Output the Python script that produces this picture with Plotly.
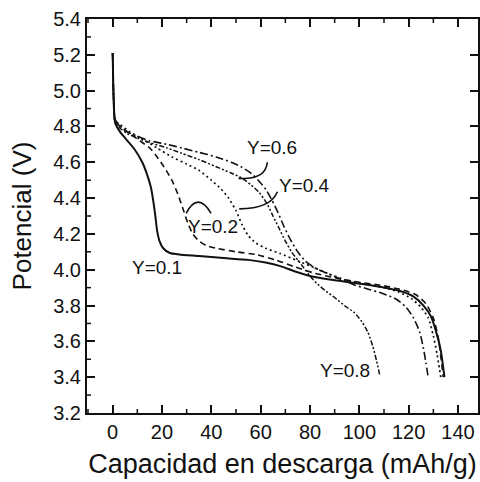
import plotly.graph_objects as go

# Discharge curves: capacity (mAh/g) vs potential (V) for each composition Y
cap_y01 = [0, 0.3, 0.6, 1, 3, 6, 9, 12, 14, 15.5, 16.5, 17.3, 18, 19, 20.5, 23, 27, 35, 45, 55, 62, 68, 74, 80, 88, 96, 104, 112, 118, 122, 126, 129, 131, 133, 134.5]
pot_y01 = [5.21, 5.0, 4.88, 4.82, 4.77, 4.72, 4.67, 4.60, 4.53, 4.46, 4.38, 4.30, 4.22, 4.16, 4.12, 4.095, 4.085, 4.077, 4.065, 4.055, 4.04, 4.02, 3.99, 3.965, 3.945, 3.93, 3.915, 3.895, 3.875, 3.85, 3.80, 3.74, 3.66, 3.55, 3.40]

cap_y02 = [0, 0.3, 0.6, 1, 3, 7, 11, 15, 18, 21, 24, 26.5, 28.5, 30.5, 32.5, 35, 38, 42, 50, 58, 66, 74, 82, 90, 100, 110, 118, 123, 127, 130, 132, 134]
pot_y02 = [5.21, 5.0, 4.88, 4.83, 4.80, 4.76, 4.72, 4.68, 4.63, 4.57, 4.50, 4.42, 4.34, 4.26, 4.20, 4.16, 4.135, 4.12, 4.10, 4.085, 4.055, 4.015, 3.98, 3.955, 3.93, 3.91, 3.885, 3.86, 3.81, 3.73, 3.62, 3.40]

cap_y04 = [0, 0.3, 0.6, 1, 3, 7, 12, 18, 24, 30, 35, 40, 44, 47, 50, 52.5, 55, 58, 62, 68, 75, 82, 88, 94, 102, 110, 116, 121, 125, 128, 130, 131.5, 133]
pot_y04 = [5.21, 5.0, 4.88, 4.83, 4.81, 4.77, 4.73, 4.68, 4.63, 4.59, 4.555, 4.50, 4.45, 4.40, 4.33, 4.25, 4.19, 4.15, 4.12, 4.09, 4.05, 4.01, 3.975, 3.945, 3.92, 3.90, 3.875, 3.84, 3.79, 3.73, 3.63, 3.53, 3.40]

cap_y06 = [0, 0.3, 0.6, 1, 3, 6, 10, 15, 22, 28, 35, 42, 48, 52, 56, 59, 62, 64.5, 67, 69.5, 72, 75, 78, 82, 86, 92, 98, 104, 110, 115, 119, 122, 124.5, 126, 127, 127.8]
pot_y06 = [5.21, 5.0, 4.88, 4.84, 4.80, 4.77, 4.745, 4.72, 4.70, 4.68, 4.655, 4.63, 4.60, 4.575, 4.54, 4.50, 4.45, 4.39, 4.32, 4.24, 4.17, 4.10, 4.05, 4.01, 3.985, 3.95, 3.915, 3.89, 3.865, 3.835, 3.79, 3.73, 3.65, 3.56, 3.48, 3.41]

cap_y08 = [0, 0.3, 0.6, 1, 3, 6, 10, 15, 22, 28, 35, 42, 48, 52, 56, 59.5, 62.5, 65, 67.5, 70, 72.5, 75, 77.5, 80, 83, 86.5, 90, 94, 98, 101, 103.5, 105.5, 107, 108.3]
pot_y08 = [5.21, 5.0, 4.88, 4.83, 4.79, 4.76, 4.735, 4.71, 4.68, 4.65, 4.615, 4.575, 4.54, 4.515, 4.475, 4.43, 4.37, 4.30, 4.23, 4.16, 4.10, 4.055, 4.01, 3.965, 3.92, 3.88, 3.845, 3.80, 3.76, 3.71, 3.65, 3.57, 3.49, 3.41]

# Curve labels and their positions
labels = ["Y=0.1", "Y=0.2", "Y=0.4", "Y=0.6", "Y=0.8"]
label_x = [18.1, 40.8, 77.9, 64.4, 94.0]
label_y = [4.01, 4.24, 4.47, 4.68, 3.44]

# Leader arcs from labels to curves: (start, control, end)
leader_y02 = [(29.8, 4.315), (34.5, 4.44), (39.9, 4.315)]
leader_y04 = [(66.8, 4.435), (64.0, 4.34), (51.3, 4.34)]
leader_y06 = [(62.7, 4.60), (62.0, 4.50), (51.0, 4.51)]

# Tick values (major and minor)
x_major = [0, 20, 40, 60, 80, 100, 120, 140]
x_minor = [-10, 10, 30, 50, 70, 90, 110, 130]
y_major = [3.2, 3.4, 3.6, 3.8, 4.0, 4.2, 4.4, 4.6, 4.8, 5.0, 5.2, 5.4]
y_minor = [3.3, 3.5, 3.7, 3.9, 4.1, 4.3, 4.5, 4.7, 4.9, 5.1, 5.3]

FONT = "Liberation Sans, Arial, Helvetica, sans-serif"
INK = "#111111"

series = [
    (cap_y01, pot_y01, "solid", 2.0),
    (cap_y02, pot_y02, "6px,4px", 1.6),
    (cap_y04, pot_y04, "2px,3px", 1.7),
    (cap_y06, pot_y06, "8px,3px,2px,3px", 1.6),
    (cap_y08, pot_y08, "5px,2px,2px,2px,2px,2px", 1.5),
]

fig = go.Figure()
for (xs, ys, dash, w), name in zip(series, labels):
    fig.add_trace(go.Scatter(x=xs, y=ys, mode="lines", name=name,
                             line=dict(color=INK, width=w, dash=dash, shape="spline", smoothing=0.6),
                             showlegend=False, hoverinfo="skip"))

for txt, lx, ly in zip(labels, label_x, label_y):
    fig.add_annotation(x=lx, y=ly, text=txt, showarrow=False,
                       font=dict(family=FONT, size=19, color=INK))

for (p0, c, p1) in [leader_y02, leader_y04, leader_y06]:
    fig.add_shape(type="path", xref="x", yref="y",
                  path=f"M {p0[0]},{p0[1]} Q {c[0]},{c[1]} {p1[0]},{p1[1]}",
                  line=dict(color=INK, width=1.6))


# Short minor tick marks along the inside of the frame, sized in pixels
def x_tick(v, length, width, edge):
    sign = 1 if edge == 0 else -1
    fig.add_shape(type="line", xref="x", yref="paper", ysizemode="pixel", yanchor=edge,
                  x0=v, x1=v, y0=0, y1=sign * length, line=dict(color=INK, width=width))


def y_tick(v, length, width, edge):
    sign = 1 if edge == 0 else -1
    fig.add_shape(type="line", xref="paper", yref="y", xsizemode="pixel", xanchor=edge,
                  y0=v, y1=v, x0=0, x1=sign * length, line=dict(color=INK, width=width))


for v in x_minor:
    x_tick(v, 4, 1.5, 0)
    x_tick(v, 4, 1.5, 1)
for v in y_minor:
    y_tick(v, 4, 1.5, 0)

fig.update_layout(
    width=480, height=482,
    margin=dict(l=87, r=0, t=19, b=69),
    paper_bgcolor="white", plot_bgcolor="white",
    xaxis=dict(range=[-10.4, 148.1], tickmode="array", tickvals=x_major,
               showline=True, linewidth=2, linecolor=INK, mirror="allticks",
               ticks="inside", ticklen=8, tickwidth=2, tickcolor=INK,
               showgrid=False, zeroline=False,
               tickfont=dict(family=FONT, size=20, color=INK),
               title=dict(text="Capacidad en descarga (mAh/g)", font=dict(family=FONT, size=27, color=INK),
                          standoff=12)),
    yaxis=dict(range=[3.2, 5.4], tickmode="array", tickvals=y_major, tickformat=".1f",
               showline=True, linewidth=2, linecolor=INK, mirror="allticks",
               ticks="inside", ticklen=8, tickwidth=2, tickcolor=INK,
               showgrid=False, zeroline=False,
               tickfont=dict(family=FONT, size=20, color=INK),
               title=dict(text="Potencial (V)", font=dict(family=FONT, size=26, color=INK), standoff=14)),
)

fig.write_html("out.html")
